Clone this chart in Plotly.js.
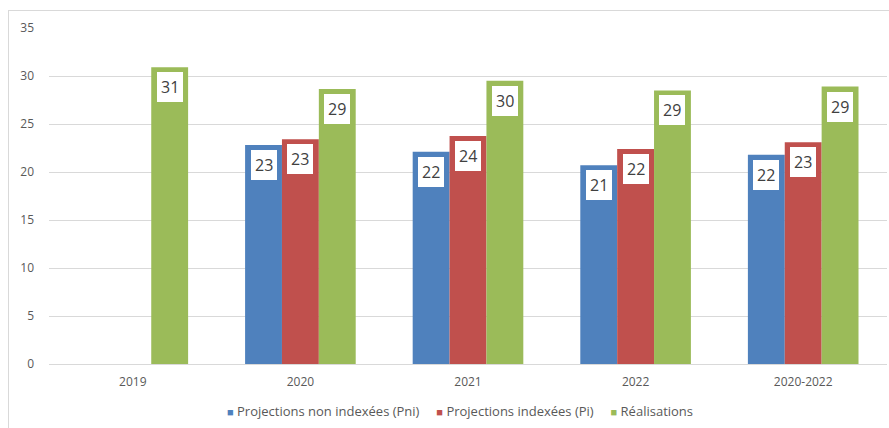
<!DOCTYPE html>
<html><head><meta charset="utf-8">
<script src="https://cdn.plot.ly/plotly-3.0.1.min.js"></script>
<style>body{margin:0;background:#fff;overflow:hidden;} #frame{position:absolute;left:8px;top:10px;width:900px;height:430px;border:1px solid #d9d9d9;pointer-events:none;} #chart{position:absolute;left:0;top:0;width:889px;height:428px;}</style>
</head><body>
<div id="chart"></div><div id="frame"></div>
<script>
const categories = ["2019", "2020", "2021", "2022", "2020-2022"];
const seriesNames = ["Projections non indexées (Pni)", "Projections indexées (Pi)", "Réalisations"];
const pni = [null, 22.8, 22.1, 20.7, 21.8];
const pi = [null, 23.4, 23.75, 22.4, 23.1];
const realisations = [30.9, 28.65, 29.5, 28.5, 28.9];
const pniLabels = [null, "23", "22", "21", "22"];
const piLabels = [null, "23", "24", "22", "23"];
const realLabels = ["31", "29", "30", "29", "29"];
const colors = ["#4F81BD", "#C0504D", "#9BBB59"];

const W = 889, H = 428, mL = 49, mR = 2, mT = 28, mB = 64, bargap = 0.34;
const series = [pni, pi, realisations];
const labels = [pniLabels, piLabels, realLabels];
const traces = series.map((vals, i) => ({
  type: 'bar', name: seriesNames[i], x: categories, y: vals,
  marker: {color: colors[i]}, hoverinfo: 'none'
}));
const catW = (W - mL - mR) / categories.length;
const barW = catW * (1 - bargap) / 3;
const annotations = [];
series.forEach((vals, i) => {
  vals.forEach((v, j) => {
    if (v === null) return;
    annotations.push({
      x: j, y: v, xref: 'x', yref: 'y', text: labels[i][j],
      showarrow: false, yanchor: 'top', yshift: -5, xshift: (i - 1) * barW,
      bgcolor: '#ffffff', bordercolor: colors[i], borderwidth: 0, borderpad: 4,
      font: {family: 'Open Sans, sans-serif', size: 16, color: '#404040'}
    });
  });
});
// legend built as one text line
const legendText = seriesNames.map((n, i) =>
  '<span style="color:' + colors[i] + ';font-size:11px">■</span> ' + n).join('&nbsp;&nbsp;&nbsp;&nbsp;&nbsp;');
annotations.push({
  xref: 'paper', yref: 'paper', x: (460 - mL) / (W - mL - mR), y: -0.14, xanchor: 'center', yanchor: 'middle',
  showarrow: false, text: legendText,
  font: {family: 'Open Sans, sans-serif', size: 13, color: '#595959'}
});
const layout = {
  width: W, height: H, margin: {l: mL, r: mR, t: mT, b: mB},
  paper_bgcolor: '#fff', plot_bgcolor: '#fff',
  barmode: 'group', bargap: bargap, bargroupgap: 0,
  showlegend: false,
  xaxis: {type: 'category', range: [-0.5, categories.length - 0.5], autorange: false,
    tickfont: {family: 'Open Sans, sans-serif', size: 12, color: '#595959'},
    showgrid: false, showline: false, ticks: '', ticklabelstandoff: 9},
  yaxis: {range: [0, 35], autorange: false, dtick: 5, showgrid: true, gridcolor: '#d9d9d9', gridwidth: 1,
    zeroline: true, zerolinecolor: '#d9d9d9', zerolinewidth: 1, showline: false,
    tickfont: {family: 'Open Sans, sans-serif', size: 12, color: '#595959'}, ticklabelstandoff: 14},
  annotations: annotations
};
Plotly.newPlot('chart', traces, layout, {displayModeBar: false, staticPlot: true});
</script>
</body></html>
